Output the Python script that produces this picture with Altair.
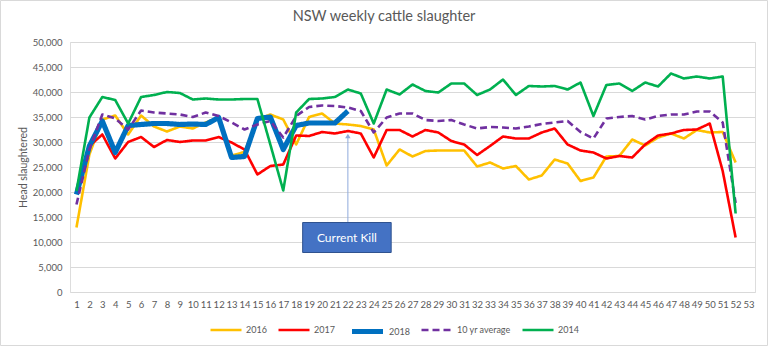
import altair as alt
import pandas as pd

# ---------------- data ----------------
weeks = list(range(1, 53))
week_labels = list(range(1, 54))
y_ticks = list(range(0, 50001, 5000))

chart_title = "NSW weekly cattle slaughter"
y_title = "Head slaughtered"

series_names = ["2016", "2017", "2018", "10 yr average", "2014"]
series_colors = ["#FFC000", "#FF0000", "#0070C0", "#7030A0", "#00B050"]

v2016 = [12900, 27500, 34500, 35300, 31500, 35300, 33100, 32100, 33100, 32700,
         33900, 34900, 27300, 28000, 34500, 35500, 34500, 29500, 35000, 35700,
         33700, 33500, 33200, 32500, 25300, 28500, 27100, 28200, 28300, 28300,
         28300, 25100, 25900, 24700, 25200, 22500, 23300, 26500, 25700, 22200,
         22900, 27100, 27200, 30500, 29300, 30900, 31700, 30700, 32400, 31900,
         32000, 25900]

v2017 = [19800, 29200, 31500, 26700, 30000, 31000, 29000, 30400, 30000, 30300,
         30300, 31000, 29900, 28500, 23500, 25200, 25500, 31300, 31200, 32000,
         31700, 32200, 31700, 26900, 32400, 32400, 31100, 32400, 31900, 30200,
         29500, 27400, 29200, 31100, 30700, 30700, 31900, 32700, 29500, 28300,
         27900, 26700, 27200, 26900, 29500, 31300, 31700, 32400, 32500, 33700,
         24200, 10900]

v2018 = [19500, 29200, 34200, 27900, 33300, 33500, 33700, 33700, 33500, 33600,
         33500, 34900, 26900, 27100, 34700, 35000, 28500, 33300, 33800, 33800,
         33800, 36200]

v10yr = [17500, 28500, 35500, 34700, 32500, 36300, 35900, 35700, 35500, 35000,
         35900, 35200, 33900, 32500, 33500, 34200, 30900, 35200, 37000, 37300,
         37200, 36900, 36200, 31900, 34900, 35700, 35700, 34400, 34200, 34400,
         33500, 32700, 33000, 32900, 32700, 33100, 33600, 33900, 34200, 32000,
         30700, 34700, 35000, 35200, 34500, 35200, 35500, 35500, 36100, 36100,
         33900, 17800]

v2014 = [20200, 34900, 39000, 38400, 33700, 39000, 39400, 40000, 39800, 38500,
         38700, 38500, 38500, 38600, 38600, 29500, 20300, 35900, 38600, 38700,
         39000, 40500, 39700, 33700, 40500, 39500, 41500, 40200, 39900, 41700,
         41700, 39400, 40500, 42500, 39400, 41200, 41100, 41200, 40500, 41900,
         35200, 41400, 41700, 40200, 41900, 41100, 43700, 42700, 43100, 42700,
         43100, 15700]

series_values = [v2016, v2017, v2018, v10yr, v2014]

# annotation ("Current Kill" call-out), in data units
annot_text = "Current Kill"
annot_box_weeks = [18.5, 25.35]
annot_box_values = [7900, 13900]
annot_arrow_week = 22.0
annot_arrow_values = [13900, 31200]

# ---------------- build table ----------------
rows = []
for name, vals in zip(series_names, series_values):
    for w, v in zip(weeks, vals):
        rows.append({"week": w, "value": v, "series": name})
df = pd.DataFrame(rows)

FONT = "Lato"
GREY = "#595959"

x_scale = alt.Scale(domain=[0.5, 53.5], nice=False, zero=False)
y_scale = alt.Scale(domain=[0, 50000], nice=False)

x_axis = alt.Axis(values=week_labels, title=None, grid=False, ticks=False,
                  domain=False, labelFontSize=9.5, labelColor=GREY,
                  labelPadding=7, labelOverlap=False, labelFlush=False,
                  labelFont=FONT)
y_axis = alt.Axis(values=y_ticks, format=",.0f", title=y_title,
                  grid=True, gridColor="#D9D9D9", gridWidth=1, ticks=False,
                  domain=False, labelFontSize=9.5, labelColor=GREY,
                  labelPadding=8, labelFont=FONT, titleFont=FONT,
                  titleFontSize=10.5, titleColor=GREY, titleFontWeight="normal",
                  titleX=-47, titleY=125, titleAngle=270,
                  titleAlign="center", titleBaseline="middle")


def ax(field):
    return alt.X(field, scale=x_scale, axis=x_axis)


def ay(field):
    return alt.Y(field, scale=y_scale, axis=y_axis)


legend = alt.Legend(orient="none", legendX=139, legendY=271, direction="horizontal",
                    title=None, symbolType="stroke", symbolSize=961,
                    labelFontSize=9, labelColor=GREY, labelFont=FONT,
                    labelOffset=3, columnPadding=6, padding=0, gridAlign="none")

color_enc = alt.Color("series:N",
                      scale=alt.Scale(domain=series_names, range=series_colors),
                      legend=legend)
dash_enc = alt.StrokeDash("series:N",
                          scale=alt.Scale(domain=series_names,
                                          range=[[1, 0], [1, 0], [1, 0], [7, 4], [1, 0]]),
                          legend=legend)
width_enc = alt.StrokeWidth("series:N",
                            scale=alt.Scale(type="ordinal", domain=series_names,
                                            range=[2.6, 2.6, 5.2, 2.6, 2.6]),
                            legend=legend)

base = alt.Chart(df)
line_layers = [
    base.transform_filter(alt.datum.series == s)
    .mark_line(strokeJoin="round", strokeCap="butt")
    .encode(x=ax("week:Q"), y=ay("value:Q"), color=color_enc, strokeDash=dash_enc,
            strokeWidth=width_enc)
    for s in series_names
]

# annotation
box_df = pd.DataFrame({"x1": [annot_box_weeks[0]], "x2": [annot_box_weeks[1]],
                       "y1": [annot_box_values[0]], "y2": [annot_box_values[1]],
                       "xm": [sum(annot_box_weeks) / 2],
                       "ym": [sum(annot_box_values) / 2],
                       "t": [annot_text]})
arrow_df = pd.DataFrame({"x": [annot_arrow_week], "y1": [annot_arrow_values[0]],
                         "y2": [annot_arrow_values[1]]})

box = alt.Chart(box_df).mark_rect(fill="#4472C4", stroke="#2F528F",
                                   strokeWidth=1).encode(
    x=ax("x1:Q"), x2="x2:Q", y=ay("y1:Q"), y2="y2:Q")
box_text = alt.Chart(box_df).mark_text(color="white", fontSize=12, font=FONT,
                                        align="center", baseline="middle").encode(
    x=ax("xm:Q"), y=ay("ym:Q"), text="t:N")
arrow_line = alt.Chart(arrow_df).mark_rule(color="#8FAADC", strokeWidth=1).encode(
    x=ax("x:Q"), y=ay("y1:Q"), y2="y2:Q")
arrow_head = alt.Chart(arrow_df).mark_point(shape="triangle-up", filled=True,
                                             color="#8FAADC", size=30, opacity=1).encode(
    x=ax("x:Q"), y=ay("y2:Q"))

# chart decoration: outer border and title text
deco_df = pd.DataFrame({"title": [chart_title]})
frame = alt.Chart(deco_df).mark_rect(
    fill=None, stroke="#D9D9D9", strokeWidth=1).encode(
    x=alt.value(-69.5), x2=alt.value(697.5), y=alt.value(-41.5), y2=alt.value(303.5))
title_text = alt.Chart(deco_df).mark_text(
    fontSize=14.5, font=FONT, color=GREY, align="center", baseline="middle").encode(
    x=alt.value(314), y=alt.value(-25), text="title:N")

chart = alt.layer(frame, title_text, *line_layers, arrow_line, arrow_head, box,
                  box_text).properties(
    width=685, height=250,
    autosize=alt.AutoSizeParams(type="none"),
    padding={"left": 70, "top": 42, "right": 13, "bottom": 54},
).configure_view(strokeWidth=0, stroke=None).configure(background="white")

chart.save("out.html", embed_options={"renderer": "svg", "actions": False})
